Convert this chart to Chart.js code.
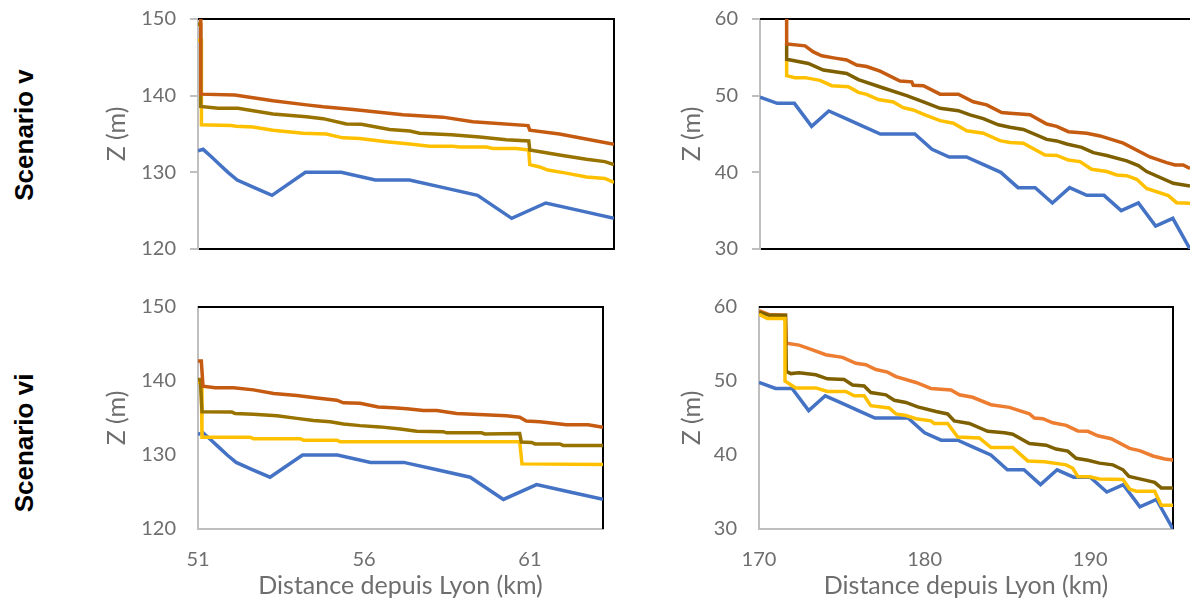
<!DOCTYPE html>
<html lang="fr">
<head>
<meta charset="UTF-8">
<title>Scenarios v et vi</title>
<style>
    html, body { margin: 0; padding: 0; background: #fff; }
    body { position: relative; width: 1190px; height: 601px; overflow: hidden; }
    canvas { position: absolute; }
    .scenario {
        position: absolute; left: 24px; width: 0; height: 0;
        font: bold 26px "Liberation Sans", Arial, sans-serif; color: #000;
        white-space: nowrap;
    }
    .scenario span { position: absolute; transform: translate(-50%, -50%) rotate(-90deg); }
</style>
</head>
<body>
<div class="scenario" style="top:135px"><span>Scenario v</span></div>
<div class="scenario" style="top:443px"><span>Scenario vi</span></div>
<canvas id="chartTL" width="525" height="290" style="left:100px;top:0"></canvas>
<canvas id="chartTR" width="520" height="290" style="left:670px;top:0"></canvas>
<canvas id="chartBL" width="520" height="311" style="left:100px;top:290px"></canvas>
<canvas id="chartBR" width="520" height="311" style="left:670px;top:290px"></canvas>

<script src="https://cdn.jsdelivr.net/npm/chart.js"></script>
<script>
// axes
const ticksAmont = [51, 56, 61];
const ticksAval = [170, 180, 190];
const zTicksAmont = [120, 130, 140, 150];
const zTicksAval = [30, 40, 50, 60];

// terrain (bleu), same in both scenarios
const terrainKmAmont = [51, 51.15, 51.4, 51.64, 51.88, 52.15, 52.65, 53.17, 54.15, 55.2, 56.2, 57.2, 58.2, 59.2, 60.2, 61.2, 62.2, 63.2];
const terrainZAmont = [132.8, 133, 132, 131, 130, 129, 128, 127, 130, 130, 129, 129, 128, 127, 124, 126, 125, 124];
const terrainKmAval = [170, 171, 172, 173, 174, 175, 176, 177, 178, 179, 180, 181, 182, 183, 184, 185, 186, 187, 188, 189, 190, 191, 192, 193, 194, 195];
const terrainZAval = [49.8, 49, 49, 46, 48, 47, 46, 45, 45, 45, 43, 42, 42, 41, 40, 38, 38, 36, 38, 37, 37, 35, 36, 33, 34, 30];

// scenario v, amont
const orangeKmTL = [51, 51.08, 51.08, 52.08, 53.2, 54.18, 54.67, 55.55, 57.01, 58.18, 59.06, 60.68, 60.73, 61.6, 63.2];
const orangeZTL = [151, 151, 140.2, 140.1, 139.35, 138.8, 138.55, 138.2, 137.5, 137.2, 136.6, 136.1, 135.5, 135, 133.65];
const oliveKmTL = [51, 51.08, 51.08, 51.59, 52.17, 53.2, 54.18, 54.67, 55.35, 55.79, 56.62, 57.21, 57.5, 58.43, 59.26, 60.04, 60.7, 60.73, 61.6, 62.39, 62.93, 63.2];
const oliveZTL = [149.3, 149.3, 138.6, 138.35, 138.35, 137.6, 137.26, 137, 136.3, 136.26, 135.6, 135.4, 135.1, 134.9, 134.6, 134.26, 134.1, 132.9, 132.26, 131.7, 131.4, 131];
const jauneKmTL = [51, 51.1, 51.1, 51.98, 52.12, 52.61, 53.2, 54.08, 54.76, 55.25, 55.74, 56.52, 57.21, 57.79, 58.48, 58.67, 59.46, 59.65, 60.34, 60.7, 60.73, 61.02, 61.26, 61.8, 62.39, 62.93, 63.2];
const jauneZTL = [147.2, 147.2, 136.2, 136.1, 136, 135.9, 135.5, 135.1, 135, 134.5, 134.4, 134, 133.7, 133.4, 133.4, 133.3, 133.3, 133.1, 133.1, 132.9, 131, 130.7, 130.3, 129.9, 129.4, 129.2, 128.7];

// scenario v, aval
const orangeKmTR = [171.55, 171.55, 172.62, 173.1, 173.59, 174.36, 175.04, 175.62, 176.2, 176.98, 178.14, 178.82, 178.91, 179.5, 180.47, 181.53, 182.4, 183.18, 184.05, 184.53, 185.7, 186.67, 187.25, 187.93, 189, 189.77, 191.12, 192.67, 193.64, 194.13, 194.6, 195];
const orangeZTR = [61, 56.74, 56.5, 55.7, 55.2, 54.9, 54.65, 54, 53.8, 53.2, 51.9, 51.8, 51.35, 51.3, 50.2, 50.2, 49.2, 48.8, 47.8, 47.7, 47.5, 46.3, 46, 45.3, 45.1, 44.75, 43.8, 42, 41.26, 40.96, 40.96, 40.5];
const oliveKmTR = [171.55, 171.55, 172.81, 173.68, 175.04, 175.72, 177.17, 178.53, 179.5, 180.47, 181.53, 182.21, 182.98, 183.86, 184.53, 185.31, 186.67, 187.25, 187.83, 188.7, 189.38, 190.16, 191.32, 192, 192.48, 194.03, 195];
const oliveZTR = [56.8, 54.74, 54.2, 53.35, 52.9, 52.1, 51, 50, 49.2, 48.35, 48.04, 47.5, 47, 46.2, 45.87, 45.6, 44.3, 44.1, 43.7, 43.26, 42.57, 42.2, 41.5, 40.87, 40.1, 38.57, 38.2];
const jauneKmTR = [171.55, 171.55, 172.03, 172.62, 173.49, 174.17, 175.14, 175.72, 176.2, 176.88, 177.75, 178.33, 178.91, 179.59, 180.47, 181.24, 182.02, 182.98, 183.95, 184.53, 185.31, 186.57, 187.25, 187.93, 188.6, 189.28, 190.16, 190.74, 191.32, 191.9, 192.48, 193.74, 194.22, 195];
const jauneZTR = [54.74, 52.6, 52.35, 52.35, 52, 51.3, 51.17, 50.43, 50.17, 49.5, 49.17, 48.43, 48.13, 47.5, 46.74, 46.4, 45.43, 45.1, 44.13, 43.9, 43.8, 42.26, 42.2, 41.6, 41.4, 40.4, 40.1, 39.65, 39.57, 39.1, 37.9, 36.96, 36.04, 35.96];

// scenario vi, amont
const orangeKmBL = [51, 51.1, 51.15, 51.52, 52.07, 52.67, 53.28, 53.98, 54.58, 55.18, 55.38, 55.88, 56.43, 56.88, 57.29, 57.79, 58.19, 58.79, 59.29, 60.29, 60.69, 60.89, 61.3, 61.7, 62.1, 62.75, 63.2];
const orangeZBL = [142.7, 142.7, 139.3, 139.1, 139.1, 138.8, 138.3, 138.05, 137.7, 137.4, 137.05, 137, 136.5, 136.4, 136.25, 136.03, 136, 135.6, 135.5, 135.3, 135.1, 134.6, 134.5, 134.3, 134.1, 134.1, 133.75];
const oliveKmBL = [51, 51.07, 51.12, 52.02, 52.12, 52.67, 53.38, 53.98, 54.48, 54.98, 55.38, 55.88, 56.48, 57.09, 57.59, 58.39, 58.49, 59.54, 59.64, 60.69, 60.74, 61.05, 61.15, 61.9, 62, 63.2];
const oliveZBL = [140.2, 140.2, 135.85, 135.8, 135.6, 135.5, 135.3, 134.95, 134.65, 134.5, 134.2, 133.97, 133.8, 133.5, 133.2, 133.15, 133, 133, 132.85, 132.9, 131.75, 131.7, 131.5, 131.5, 131.3, 131.3];
const jauneKmBL = [51, 51.1, 51.12, 52.57, 52.67, 54.08, 54.18, 55.18, 55.28, 60.69, 60.76, 63.2];
const jauneZBL = [139.8, 139.8, 132.4, 132.4, 132.2, 132.2, 132, 132, 131.8, 131.8, 128.8, 128.7];

// scenario vi, aval
const orangeKmBR = [170, 170.6, 171.6, 171.65, 172.42, 173.23, 174.03, 175.04, 175.85, 176.45, 177.06, 177.76, 178.27, 179.48, 180.38, 181.59, 182.1, 182.9, 184.01, 185.12, 186.33, 186.63, 187.14, 187.74, 188.55, 189.25, 189.86, 190.46, 191.27, 192.38, 192.98, 193.79, 194.5, 195];
const orangeZBR = [59.5, 59, 58.9, 55.1, 54.85, 54.2, 53.55, 53.2, 52.4, 52.2, 51.55, 51.2, 50.6, 49.8, 49, 48.8, 48.13, 47.8, 46.8, 46.44, 45.55, 45, 44.9, 44.35, 44, 43.25, 43.2, 42.6, 42.2, 40.9, 40.6, 39.87, 39.47, 39.33];
const oliveKmBR = [170, 170.6, 171.6, 171.65, 171.92, 172.42, 173.43, 174.13, 175.14, 175.65, 176.35, 176.75, 177.66, 178.17, 178.87, 179.58, 180.69, 181.39, 181.79, 182.7, 183.81, 184.82, 185.32, 186.33, 187.34, 187.94, 188.65, 189.15, 189.86, 190.56, 191.37, 191.98, 192.34, 193.19, 193.89, 194.29, 195];
const oliveZBR = [59.33, 58.9, 58.9, 51.3, 51, 51.1, 50.84, 50.3, 50.2, 49.47, 49.33, 48.44, 48.13, 47.4, 47.1, 46.5, 45.87, 45.55, 44.6, 44.27, 43.2, 43, 42.8, 41.55, 41.33, 40.8, 40.53, 39.55, 39.3, 38.9, 38.67, 38, 37.1, 36.67, 36.3, 35.55, 35.55];
const jauneKmBR = [170, 170.5, 171.57, 171.57, 172.22, 173.43, 174.13, 175.24, 175.75, 176.35, 176.75, 177.86, 178.27, 178.87, 179.48, 180.38, 180.58, 181.39, 182, 183.31, 184.01, 185.32, 186.23, 187.24, 188.55, 188.95, 189.25, 189.96, 190.56, 191.98, 192.38, 192.78, 193.89, 194.29, 195];
const jauneZBR = [59.02, 58.44, 58.44, 50, 49.07, 49.07, 48.58, 48.58, 48, 48, 46.67, 46.36, 45.56, 45.33, 44.9, 44.62, 44.27, 44.27, 42.44, 42.3, 41, 41, 39.2, 39.1, 38.67, 38.2, 37.1, 37.07, 36.76, 36.7, 35.4, 35.1, 35.1, 33.2, 33.2];

const BLUE = '#4472c4', ORANGE = '#c55a11', ORANGE_LIGHT = '#ed7d31';
const OLIVE = '#997300', OLIVE_DARK = '#7f6000', YELLOW = '#ffc000';
const GREY = '#bfbfbf', TEXT = '#6e6e6e';
const FONT = 'Lato';

function pts(xs, ys) {
    return xs.map((x, i) => ({ x: x, y: ys[i] }));
}

function serie(xs, ys, color, order) {
    return { data: pts(xs, ys), borderColor: color, borderWidth: 3.5, pointRadius: 0, tension: 0, order: order };
}

// top and right sides of the plot frame
const framePlugin = {
    id: 'frame',
    beforeDatasetsDraw(chart, args, opts) {
        const a = chart.chartArea, c = chart.ctx;
        c.save();
        c.strokeStyle = '#000';
        c.lineWidth = 2;
        c.beginPath();
        c.moveTo(a.left, a.top);
        c.lineTo(a.right, a.top);
        if (opts.right) c.lineTo(a.right, a.bottom);
        c.stroke();
        c.restore();
    }
};

function panel(id, p) {
    return new Chart(document.getElementById(id), {
        type: 'line',
        data: { datasets: p.series },
        options: {
            responsive: false,
            animation: false,
            devicePixelRatio: 1,
            layout: { autoPadding: false, padding: { left: 0, top: p.top, right: p.right, bottom: 0 } },
            plugins: {
                legend: { display: false },
                tooltip: { enabled: false },
                frame: { right: p.frameRight }
            },
            scales: {
                x: {
                    type: 'linear',
                    min: p.xTicks[0],
                    max: p.xMax,
                    afterBuildTicks: s => { s.ticks = p.xTicks.map(v => ({ value: v })); },
                    afterFit: s => { s.height = p.xHeight; s.paddingLeft = 0; s.paddingRight = 0; },
                    border: { color: p.bottomColor, width: 2 },
                    grid: { drawOnChartArea: false, drawTicks: false },
                    ticks: {
                        display: p.showX, maxRotation: 0, padding: 19, color: TEXT,
                        font: { family: FONT, size: 20 }
                    },
                    title: {
                        display: p.showX, text: 'Distance depuis Lyon (km)', color: TEXT,
                        padding: { top: 2, bottom: 0 },
                        font: { family: FONT, size: 25 }
                    }
                },
                y: {
                    min: p.zTicks[0],
                    max: p.zTicks[p.zTicks.length - 1],
                    afterBuildTicks: s => { s.ticks = p.zTicks.map(v => ({ value: v })); },
                    // the scale asks for room for its end labels, that would move the plot top
                    afterFit: s => { s.width = p.yWidth; s.paddingTop = 0; s.paddingBottom = 0; },
                    border: { color: GREY, width: 2 },
                    grid: { drawOnChartArea: false, drawTicks: p.yMarks, tickLength: 8, color: GREY, lineWidth: 2 },
                    ticks: {
                        padding: p.yMarks ? 14 : 22, color: TEXT,
                        font: { family: FONT, size: 20 }
                    },
                    title: {
                        display: true, text: 'Z (m)', color: TEXT,
                        padding: { top: p.titlePad, bottom: 0 },
                        font: { family: FONT, size: 25 }
                    }
                }
            }
        },
        plugins: [framePlugin]
    });
}

panel('chartTL', {
    series: [
        serie(orangeKmTL, orangeZTL, ORANGE, 1),
        serie(oliveKmTL, oliveZTL, OLIVE, 2),
        serie(jauneKmTL, jauneZTL, YELLOW, 3),
        serie(terrainKmAmont, terrainZAmont, BLUE, 4)
    ],
    xTicks: ticksAmont, xMax: 63.2, zTicks: zTicksAmont,
    top: 19, right: 11, yWidth: 98, xHeight: 41, titlePad: 2,
    showX: false, yMarks: true, bottomColor: '#000', frameRight: true
});

panel('chartTR', {
    series: [
        serie(orangeKmTR, orangeZTR, ORANGE, 1),
        serie(oliveKmTR, oliveZTR, OLIVE_DARK, 2),
        serie(jauneKmTR, jauneZTR, YELLOW, 3),
        serie(terrainKmAval, terrainZAval, BLUE, 4)
    ],
    xTicks: ticksAval, xMax: 195, zTicks: zTicksAval,
    top: 19, right: 0, yWidth: 90, xHeight: 41, titlePad: 7,
    showX: false, yMarks: true, bottomColor: '#000', frameRight: false
});

panel('chartBL', {
    series: [
        serie(orangeKmBL, orangeZBL, ORANGE, 1),
        serie(oliveKmBL, oliveZBL, OLIVE, 2),
        serie(jauneKmBL, jauneZBL, YELLOW, 3),
        serie(terrainKmAmont, terrainZAmont, BLUE, 4)
    ],
    xTicks: ticksAmont, xMax: 63.2, zTicks: zTicksAmont,
    top: 17, right: 17, yWidth: 98, xHeight: 72, titlePad: 2,
    showX: true, yMarks: false, bottomColor: GREY, frameRight: true
});

panel('chartBR', {
    series: [
        serie(jauneKmBR, jauneZBR, YELLOW, 1),
        serie(oliveKmBR, oliveZBR, OLIVE_DARK, 2),
        serie(orangeKmBR, orangeZBR, ORANGE_LIGHT, 3),
        serie(terrainKmAval, terrainZAval, BLUE, 4)
    ],
    xTicks: ticksAval, xMax: 195, zTicks: zTicksAval,
    top: 17, right: 17, yWidth: 89, xHeight: 72, titlePad: 7,
    showX: true, yMarks: false, bottomColor: GREY, frameRight: true
});
</script>
</body>
</html>
